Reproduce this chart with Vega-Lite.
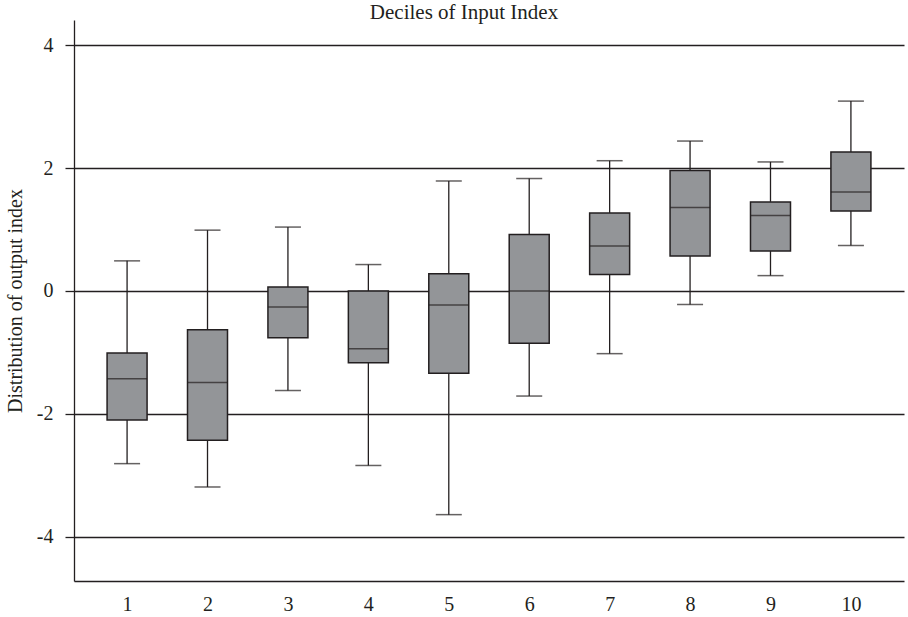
{
  "$schema": "https://vega.github.io/schema/vega-lite/v6.json",
  "width": 830,
  "height": 561,
  "autosize": "none",
  "padding": {"left": 74, "top": 20, "right": 4, "bottom": 36},
  "background": "white",
  "title": {
    "text": "Deciles of Input Index",
    "font": "Liberation Serif",
    "fontSize": 21,
    "fontWeight": "normal",
    "color": "#231f20",
    "anchor": "middle",
    "frame": "group",
    "baseline": "alphabetic",
    "dx": -25,
    "dy": 20,
    "offset": 0
  },
  "config": {"view": {"stroke": null}},
  "data": {
    "values": [
      {"decile": 1, "lo": -2.81, "q1": -2.10, "med": -1.43, "q3": -1.01, "hi": 0.49},
      {"decile": 2, "lo": -3.19, "q1": -2.43, "med": -1.49, "q3": -0.63, "hi": 0.99},
      {"decile": 3, "lo": -1.62, "q1": -0.76, "med": -0.26, "q3": 0.065, "hi": 1.04},
      {"decile": 4, "lo": -2.84, "q1": -1.17, "med": -0.94, "q3": 0.0, "hi": 0.43},
      {"decile": 5, "lo": -3.64, "q1": -1.34, "med": -0.23, "q3": 0.28, "hi": 1.79},
      {"decile": 6, "lo": -1.71, "q1": -0.85, "med": 0.0, "q3": 0.92, "hi": 1.83},
      {"decile": 7, "lo": -1.02, "q1": 0.27, "med": 0.73, "q3": 1.27, "hi": 2.12},
      {"decile": 8, "lo": -0.22, "q1": 0.57, "med": 1.36, "q3": 1.96, "hi": 2.44},
      {"decile": 9, "lo": 0.25, "q1": 0.65, "med": 1.23, "q3": 1.45, "hi": 2.10},
      {"decile": 10, "lo": 0.74, "q1": 1.30, "med": 1.61, "q3": 2.26, "hi": 3.09}
    ]
  },
  "encoding": {
    "x": {
      "field": "decile",
      "type": "ordinal",
      "scale": {"type": "point", "padding": 0.66},
      "axis": {
        "title": null,
        "domain": true,
        "domainColor": "#231f20",
        "domainWidth": 1.3,
        "ticks": false,
        "grid": false,
        "labelAngle": 0,
        "labelFont": "Liberation Serif",
        "labelFontSize": 20,
        "labelColor": "#231f20",
        "labelPadding": 13
      }
    }
  },
  "layer": [
    {
      "mark": {"type": "rule", "color": "#231f20", "strokeWidth": 1.3},
      "encoding": {
        "y": {
          "field": "lo",
          "type": "quantitative",
          "scale": {"domain": [-4.72, 4.41], "nice": false, "zero": false},
          "axis": {
            "values": [-4, -2, 0, 2, 4],
            "labelExpr": "'' + datum.value",
            "title": "Distribution of output index",
            "titleFont": "Liberation Serif",
            "titleFontSize": 20,
            "titleFontWeight": "normal",
            "titleColor": "#231f20",
            "titlePadding": 11,
            "domain": true,
            "domainColor": "#231f20",
            "domainWidth": 1.3,
            "ticks": true,
            "tickSize": 9,
            "tickColor": "#231f20",
            "tickWidth": 1.3,
            "grid": true,
            "gridColor": "#231f20",
            "gridWidth": 1.3,
            "labelFont": "Liberation Serif",
            "labelFontSize": 20,
            "labelColor": "#231f20",
            "labelPadding": 12
          }
        },
        "y2": {"field": "q1"}
      }
    },
    {
      "mark": {"type": "rule", "color": "#231f20", "strokeWidth": 1.3},
      "encoding": {
        "y": {"field": "q3", "type": "quantitative"},
        "y2": {"field": "hi"}
      }
    },
    {
      "mark": {"type": "bar", "size": 40, "fill": "#939598", "stroke": "#231f20", "strokeWidth": 1.5},
      "encoding": {
        "y": {"field": "q1", "type": "quantitative"},
        "y2": {"field": "q3"}
      }
    },
    {
      "mark": {"type": "tick", "size": 40, "thickness": 1.5, "color": "#231f20", "orient": "horizontal"},
      "encoding": {"y": {"field": "med", "type": "quantitative"}}
    },
    {
      "mark": {"type": "tick", "size": 26, "thickness": 1.5, "color": "#231f20", "orient": "horizontal"},
      "encoding": {"y": {"field": "lo", "type": "quantitative"}}
    },
    {
      "mark": {"type": "tick", "size": 26, "thickness": 1.5, "color": "#231f20", "orient": "horizontal"},
      "encoding": {"y": {"field": "hi", "type": "quantitative"}}
    }
  ]
}
